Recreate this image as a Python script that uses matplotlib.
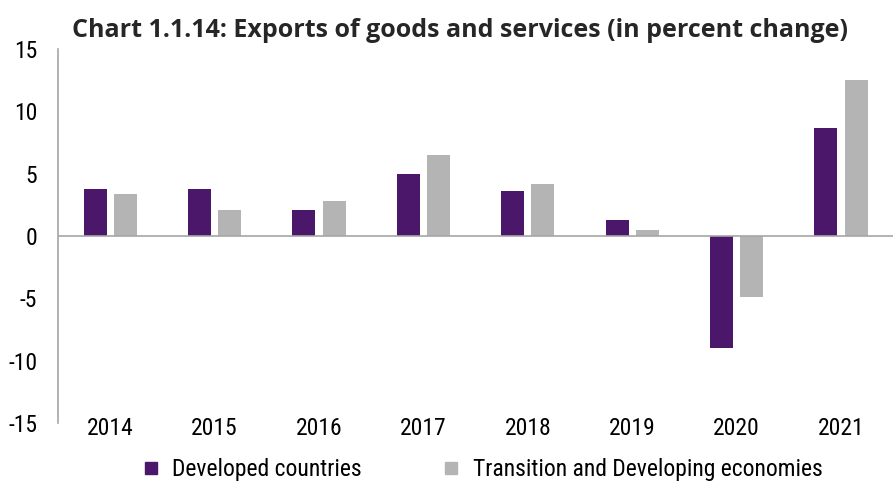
import numpy as np
import matplotlib
matplotlib.use('Agg')
import matplotlib.pyplot as plt
from matplotlib.lines import Line2D

years = ['2014', '2015', '2016', '2017', '2018', '2019', '2020', '2021']
developed = [3.8, 3.8, 2.1, 5.0, 3.6, 1.3, -9.0, 8.7]
transition = [3.4, 2.1, 2.8, 6.5, 4.2, 0.5, -4.9, 12.5]

color_dev = '#4a176a'
color_tr = '#b4b4b4'
axis_grey = '#a6a6a6'
label_font = ['Roboto Condensed', 'DejaVu Sans']

fig = plt.figure(figsize=(8.95, 4.82), dpi=100)
ax = fig.add_axes([0.0648, 0.1224, 0.9332, 0.7759])

x = np.arange(len(years))
width = 0.22
ax.bar(x - 0.145, developed, width, color=color_dev, zorder=2)
ax.bar(x + 0.145, transition, width, color=color_tr, zorder=2)

ax.axhline(0, color=axis_grey, linewidth=1.2, zorder=3)
ax.set_xlim(-0.5, len(years) - 0.5)
ax.set_ylim(-15, 15)
ax.set_yticks([-15, -10, -5, 0, 5, 10, 15])
ax.set_yticklabels(['-15', '-10', '-5', '0', '5', '10', '15'])
ax.set_xticks(x)
ax.set_xticklabels(years)
ax.tick_params(axis='both', length=0, labelsize=17, colors='black')
ax.tick_params(axis='y', pad=15)
ax.tick_params(axis='x', pad=-4)
for lbl in ax.get_xticklabels() + ax.get_yticklabels():
    lbl.set_family(label_font)

for side in ['top', 'right', 'bottom']:
    ax.spines[side].set_visible(False)
ax.spines['left'].set_color(axis_grey)
ax.spines['left'].set_linewidth(1.2)

fig.text(0.0805, 0.924, 'Chart 1.1.14: Exports of goods and services (in percent change)',
         fontsize=18, fontweight='bold', color='#262626', family='Open Sans',
         ha='left', va='baseline')

handles = [Line2D([], [], marker='s', linestyle='none', markersize=8, color=color_dev),
           Line2D([], [], marker='s', linestyle='none', markersize=8, color=color_tr)]
fig.legend(handles, ['Developed countries', 'Transition and Developing economies'],
           loc='center', bbox_to_anchor=(0.537, 0.025), ncol=2, frameon=False,
           prop={'family': label_font, 'size': 17}, handletextpad=0.4,
           columnspacing=3.3, handlelength=1.0, borderpad=0)

fig.savefig('out.png', dpi=100)
